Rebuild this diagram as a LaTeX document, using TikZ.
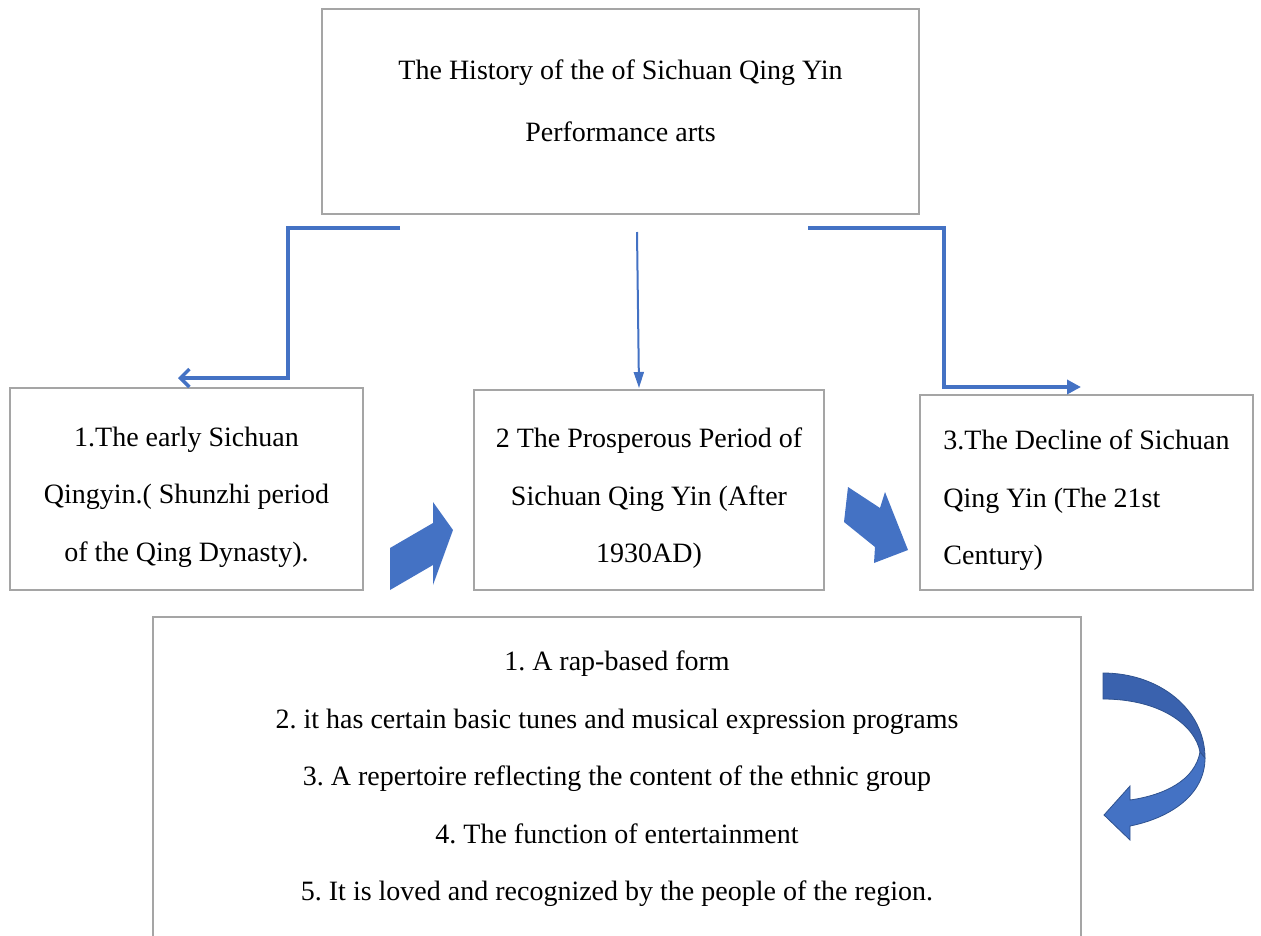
\documentclass[tikz,border=0pt]{standalone}
\usepackage{fontspec}
\setmainfont{Liberation Serif}
\usetikzlibrary{arrows.meta}
\definecolor{boxgray}{HTML}{A5A5A5}
\definecolor{lineblue}{HTML}{4472C4}
\definecolor{darkblue}{HTML}{3A62AE}
\definecolor{edgeblue}{HTML}{2F528F}
\frenchspacing
\newcommand\topgap{\rule{0pt}{36pt}}

\begin{document}
\begin{tikzpicture}[
    x=1pt, y=-1pt,
    font=\fontsize{28}{57.5}\selectfont,
    box/.style={draw=boxgray, line width=2pt, align=center, inner sep=0pt},
    elb/.style={draw=lineblue, line width=3.5pt},
    vline/.style={draw=lineblue, line width=2pt,
                  -{Triangle[length=16pt, width=10pt]}},
    blk/.style={fill=lineblue},
  ]

  \useasboundingbox (0,0) rectangle (1261,935);

  % -- Title
  \node[box, minimum width=597pt, minimum height=205pt, text depth=22pt,
        font=\fontsize{28}{62}\selectfont]
    (hist) at (620.5,111.5)
    {The History of the of Sichuan Qing Yin\\Performance arts};

  % -- Three periods
  \node[box, minimum width=353pt, minimum height=202pt] (early) at (186.5,489)
    {\topgap 1.The early Sichuan\\Qingyin.( Shunzhi period\\of the Qing Dynasty).};
  \node[box, minimum width=350pt, minimum height=200pt] (prosp) at (649,490)
    {\topgap 2 The Prosperous Period of\\Sichuan Qing Yin (After\\1930AD)};
  \node[box, align=left, minimum width=333pt, minimum height=195pt]
    (decl) at (1086.5,492.5)
    {\topgap 3.The Decline of Sichuan\\Qing Yin (The 21st\\Century)};

  % -- Features
  \node[box, minimum width=928pt, minimum height=324pt] (feat) at (617,779)
    {1. A rap-based form\\
     2. it has certain basic tunes and musical expression programs\\
     3. A repertoire reflecting the content of the ethnic group\\
     4. The function of entertainment\\
     5. It is loved and recognized by the people of the region.};

  % -- Connectors from the title
  \coordinate (lfrom) at (400,228);
  \coordinate (lto) at (178,378);
  \coordinate (mfrom) at (637,232);
  \coordinate (mto) at (639,388);
  \coordinate (rfrom) at (808,228);
  \coordinate (rto) at (1081,387);

  \draw[elb, -{Straight Barb[length=9pt, width=18pt]}]
    (lfrom) -- ++(-112,0) |- (lto);
  \draw[vline] (mfrom) -- (mto);
  \draw[elb, -{Triangle[length=14pt, width=14pt]}]
    (rfrom) -- ++(136,0) |- (rto);

  % -- Block arrows between periods
  \fill[blk] (390,548) -- (433,523) -- (433,502) -- (453,530)
    -- (433,585) -- (433,565) -- (390,590) -- cycle;
  \fill[blk] (848,487) -- (880,508) -- (885,492) -- (908,550)
    -- (874,563) -- (875,547) -- (844,522) -- cycle;

  % -- Curved arrow
  \filldraw[fill=darkblue, draw=edgeblue, line width=0.8pt]
    (1103,673) .. controls (1160,673) and (1205,710) .. (1205,758)
    -- (1200,752) .. controls (1195,725) and (1160,699) .. (1103,699)
    -- cycle;
  \filldraw[fill=lineblue, draw=edgeblue, line width=0.8pt]
    (1205,758) .. controls (1205,795) and (1170,818) .. (1130,826)
    -- (1130,840) -- (1104,815) -- (1130,786) -- (1130,800)
    .. controls (1165,795) and (1195,780) .. (1200,752) -- cycle;

\end{tikzpicture}
\end{document}
